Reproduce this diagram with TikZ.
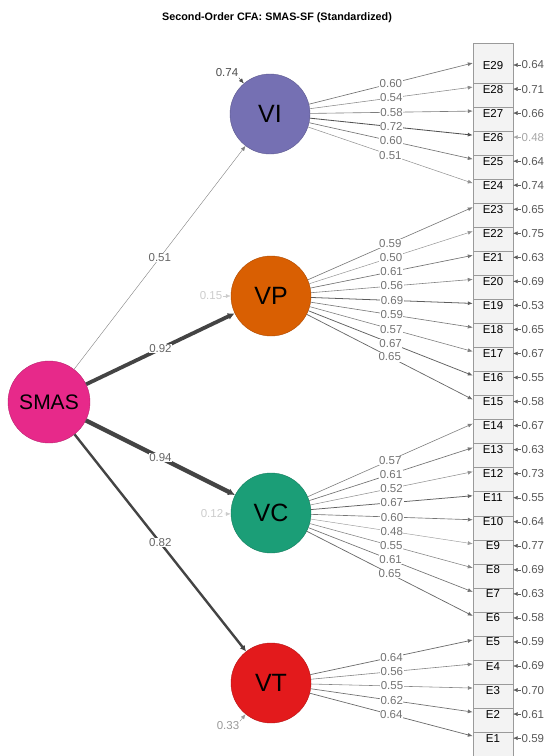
\documentclass[tikz,border=0pt]{standalone}
\usepackage{fontspec}
\setmainfont{Liberation Sans}
\usetikzlibrary{arrows.meta}
\definecolor{cVI}{HTML}{7570B3}
\definecolor{cVP}{HTML}{D95F02}
\definecolor{cVC}{HTML}{1B9E77}
\definecolor{cVT}{HTML}{E31A1C}
\definecolor{cSM}{HTML}{E7298A}
\definecolor{boxfill}{HTML}{F3F3F3}
\definecolor{boxline}{HTML}{9A9A9A}
\definecolor{dk}{HTML}{444444}
\begin{document}
\begin{tikzpicture}[x=1pt,y=-1pt,
  latent/.style={circle,minimum size=80pt,inner sep=0pt,font=\fontsize{25}{25}\selectfont},
  manifest/.style={rectangle,draw=boxline,fill=boxfill,minimum width=40pt,minimum height=40pt,inner sep=0pt,text height=12pt,text depth=0pt,font=\fontsize{11.5}{12}\selectfont},
  lbl/.style={font=\fontsize{11.5}{12}\selectfont,inner sep=0.5pt,fill=white},
  rlbl/.style={font=\fontsize{11.5}{12}\selectfont,inner sep=0.5pt,text=black!65},
  tip/.style={-{Latex[length=5pt,width=4pt]}},
]
\useasboundingbox (0,0) rectangle (547,756);
\node[font=\bfseries\fontsize{10.8}{12}\selectfont] (title) at (277,18) {Second-Order CFA: SMAS-SF (Standardized)};

% latent nodes
\node[latent,fill=cVI,draw=cVI!80!black] (VI) at (270,114) {VI};
\node[latent,fill=cVP,draw=cVP!80!black] (VP) at (271,296) {VP};
\node[latent,fill=cVC,draw=cVC!80!black] (VC) at (271,513) {VC};
\node[latent,fill=cVT,draw=cVT!80!black] (VT) at (271,683) {VT};
\node[latent,minimum size=82pt,fill=cSM,draw=cSM!80!black,font=\fontsize{21}{21}\selectfont] (SMAS) at (49,402) {SMAS};

% manifest boxes, drawn bottom first
\foreach \k in {1,...,29}{
  \node[manifest] (E\k) at (493,{63+(29-\k)*24.04}) {E\k};
}

% loadings
\foreach \lat/\lst in {VI/{29/0.60,28/0.54,27/0.58,26/0.72,25/0.60,24/0.51},
  VP/{23/0.59,22/0.50,21/0.61,20/0.56,19/0.69,18/0.59,17/0.57,16/0.67,15/0.65},
  VC/{14/0.57,13/0.61,12/0.52,11/0.67,10/0.60,9/0.48,8/0.55,7/0.61,6/0.65},
  VT/{5/0.64,4/0.56,3/0.55,2/0.62,1/0.64}}{
  \foreach \k/\v in \lst {
    \pgfmathsetmacro\dkv{int(42+(\v-0.5)*120)}
    \pgfmathsetmacro\lw{0.5+(\v-0.5)*1.5}
    \draw[tip,draw=black!\dkv,line width=\lw pt] (\lat) -- (E\k.west)
      node[lbl,pos=0.5,text=black!55] {\v};
  }
}

% residuals of manifest
\foreach \k/\v in {29/0.64,28/0.71,27/0.66,25/0.64,24/0.74,23/0.65,22/0.75,21/0.63,20/0.69,19/0.53,18/0.65,17/0.67,16/0.55,15/0.58,14/0.67,13/0.63,12/0.73,11/0.55,10/0.64,9/0.77,8/0.69,7/0.63,6/0.58,5/0.59,4/0.69,3/0.70,2/0.61,1/0.59}{
  \node[rlbl,anchor=west] (r\k) at (521,{65+(29-\k)*24.04}) {\v};
  \draw[{Latex[length=4.5pt,width=4pt]}-,draw=black!65] (E\k.east|-r\k.west) -- (r\k.west);
}
\node[rlbl,anchor=west,text=black!35] (r26) at (521,{65+3*24.04}) {0.48};
\draw[{Latex[length=4.5pt,width=4pt]}-,draw=black!35] (E26.east|-r26.west) -- (r26.west);

% second-order paths
\draw[-{Latex[length=5pt,width=4pt]},draw=black!50,line width=0.4pt] (SMAS) -- (VI) node[lbl,pos=0.5,text=black!60] {0.51};
\draw[-{Latex[length=7pt,width=7pt]},draw=dk,line width=3.8pt] (SMAS) -- (VP) node[lbl,pos=0.5,text=black!60] {0.92};
\draw[-{Latex[length=7pt,width=7pt]},draw=dk,line width=4.3pt] (SMAS) -- (VC) node[lbl,pos=0.5,text=black!60] {0.94};
\draw[-{Latex[length=6pt,width=6pt]},draw=dk,line width=2.4pt] (SMAS) -- (VT) node[lbl,pos=0.5,text=black!60] {0.82};

% latent residuals
\node[rlbl,text=black!70] (rVI) at (227,73) {0.74};
\draw[tip,draw=black!70] (rVI.south east) -- (VI);
\node[rlbl,text=black!20] (rVP) at (211,296) {0.15};
\draw[tip,draw=black!20] (rVP.east) -- (VP);
\node[rlbl,text=black!20] (rVC) at (212,514) {0.12};
\draw[tip,draw=black!20] (rVC.east) -- (VC);
\node[rlbl,text=black!40] (rVT) at (228,726) {0.33};
\draw[tip,draw=black!40] (rVT.north east) -- (VT);
\end{tikzpicture}
\end{document}
